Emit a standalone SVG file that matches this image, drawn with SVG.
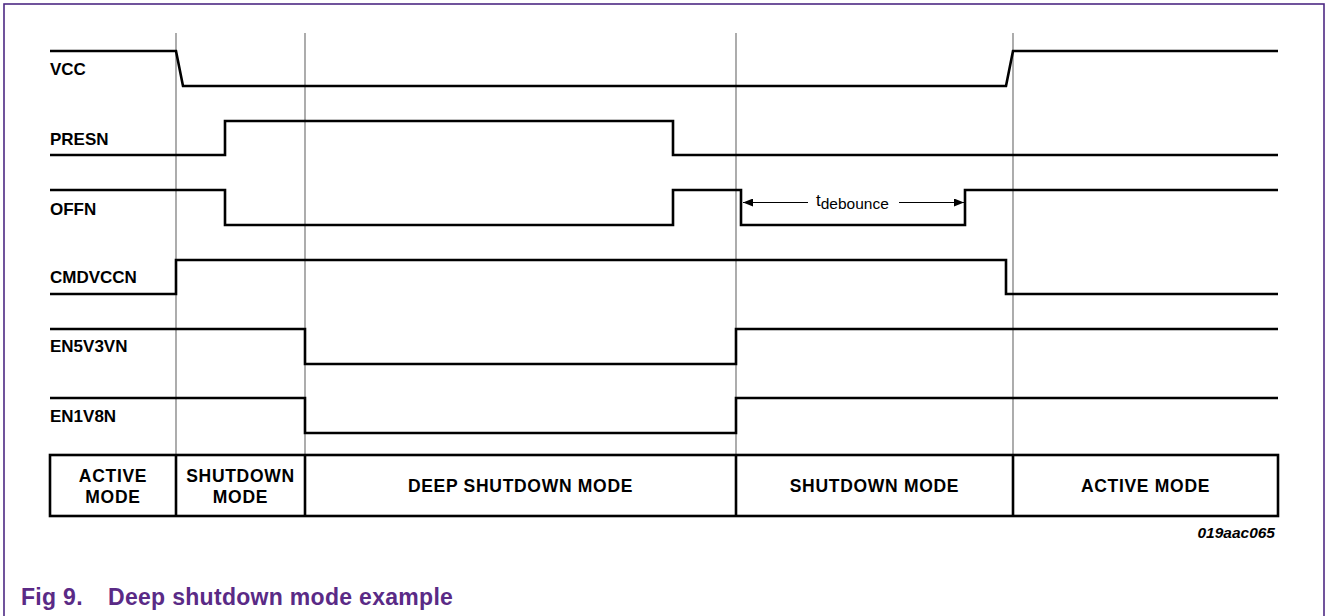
<svg xmlns="http://www.w3.org/2000/svg" width="1326" height="616" viewBox="0 0 1326 616">
<defs>
<style>
.frame{fill:none;stroke:#4e2a84;stroke-width:1.6}
.grid{stroke:#808080;stroke-width:1.3;fill:none}
.sig{fill:none;stroke:#000;stroke-width:2.6;stroke-linejoin:miter}
.tbl{fill:none;stroke:#000;stroke-width:2.6}
.lbl{font-family:"Liberation Sans",Arial,sans-serif;font-weight:bold;font-size:17px;fill:#000}
.cell{font-family:"Liberation Sans",Arial,sans-serif;font-weight:bold;font-size:17.5px;letter-spacing:0.7px;fill:#000;text-anchor:middle}
.dim{stroke:#000;stroke-width:1.2;fill:none}
.cap{font-family:"Liberation Sans",Arial,sans-serif;font-weight:bold;font-size:23px;letter-spacing:0.3px;fill:#5a2a86}
.ref{font-family:"Liberation Sans",Arial,sans-serif;font-weight:bold;font-style:italic;font-size:15.5px;fill:#000;text-anchor:end}
</style>
<marker id="ah" viewBox="0 0 10 8" refX="10" refY="4" markerWidth="11" markerHeight="8" markerUnits="userSpaceOnUse" orient="auto">
<path d="M0,0 L10,4 L0,8 Z" fill="#000"/>
</marker>
</defs>
<rect x="4" y="4" width="1320" height="640" class="frame"/>
<g id="grid-lines">
<line class="grid" x1="176" y1="33" x2="176" y2="455"/>
<line class="grid" x1="305" y1="33" x2="305" y2="455"/>
<line class="grid" x1="736" y1="33" x2="736" y2="455"/>
<line class="grid" x1="1013" y1="33" x2="1013" y2="455"/>
</g>
<g id="connectors">
<polyline id="w-vcc" class="sig" points="50,51 176,51 183,86 1006,86 1013,51 1278,51"/>
<polyline id="w-presn" class="sig" points="50,155 225,155 225,121 673,121 673,155 1278,155"/>
<polyline id="w-offn" class="sig" points="50,190 225,190 225,225 673,225 673,190 741,190 741,225 965,225 965,190 1278,190"/>
<polyline id="w-cmdvccn" class="sig" points="50,294 176,294 176,260 1006,260 1006,294 1278,294"/>
<polyline id="w-en5v3vn" class="sig" points="50,329 305,329 305,364 736,364 736,329 1278,329"/>
<polyline id="w-en1v8n" class="sig" points="50,398 305,398 305,433 736,433 736,398 1278,398"/>
<line class="dim" x1="808" y1="202.5" x2="743" y2="202.5" marker-end="url(#ah)"/>
<line class="dim" x1="899" y1="202.5" x2="964" y2="202.5" marker-end="url(#ah)"/>
</g>
<g id="labels">
<text class="lbl" x="50" y="75">VCC</text>
<text class="lbl" x="50" y="145">PRESN</text>
<text class="lbl" x="50" y="215">OFFN</text>
<text class="lbl" x="50" y="283">CMDVCCN</text>
<text class="lbl" x="50" y="352">EN5V3VN</text>
<text class="lbl" x="50" y="422">EN1V8N</text>
<text id="t-debounce" font-family="'Liberation Sans',Arial,sans-serif" font-size="17" x="816" y="206">t<tspan font-size="15.5" dy="2.5">debounce</tspan></text>
</g>
<g id="mode-table">
<rect class="tbl" x="50" y="455" width="1228" height="61"/>
<line class="tbl" x1="176" y1="455" x2="176" y2="516"/>
<line class="tbl" x1="305" y1="455" x2="305" y2="516"/>
<line class="tbl" x1="736" y1="455" x2="736" y2="516"/>
<line class="tbl" x1="1013" y1="455" x2="1013" y2="516"/>
</g>
<g id="mode-active-1"><text class="cell" x="113" y="482">ACTIVE</text><text class="cell" x="113" y="503">MODE</text></g>
<g id="mode-shutdown-1"><text class="cell" x="240.5" y="482">SHUTDOWN</text><text class="cell" x="240.5" y="503">MODE</text></g>
<g id="mode-deep"><text class="cell" x="520.5" y="492">DEEP SHUTDOWN MODE</text></g>
<g id="mode-shutdown-2"><text class="cell" x="874.5" y="492">SHUTDOWN MODE</text></g>
<g id="mode-active-2"><text class="cell" x="1145.5" y="492">ACTIVE MODE</text></g>
<text class="ref" x="1275" y="538">019aac065</text>
<text class="cap" x="21" y="605">Fig 9.</text>
<text class="cap" x="108" y="605">Deep shutdown mode example</text>
</svg>
